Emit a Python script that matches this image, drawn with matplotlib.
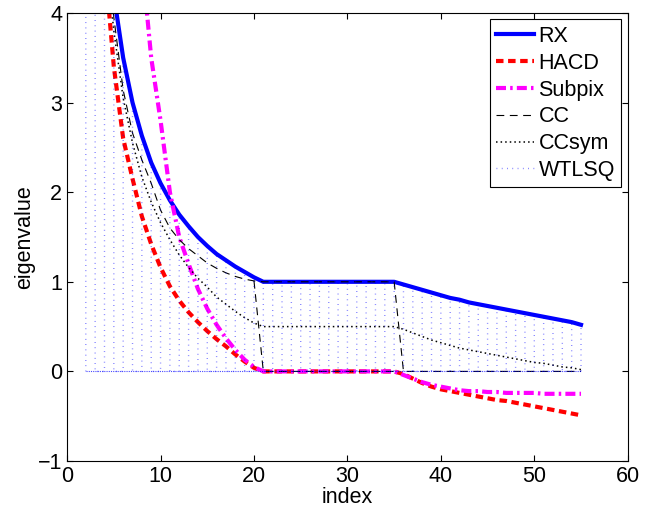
import matplotlib
matplotlib.use("Agg")
import matplotlib.pyplot as plt

plt.rcParams['font.family'] = ['Liberation Sans', 'DejaVu Sans']
plt.rcParams['font.size'] = 15.5
plt.rcParams['axes.unicode_minus'] = True

# eigenvalue index 2..55
index = list(range(2, 56))

rx = [10.5, 7.0, 5.25, 4.2, 3.5, 3.0, 2.63, 2.33, 2.1, 1.91,
      1.75, 1.62, 1.5, 1.4, 1.31, 1.24, 1.17, 1.11, 1.05, 1.0,
      1.0, 1.0, 1.0, 1.0, 1.0, 1.0, 1.0, 1.0, 1.0, 1.0, 1.0, 1.0, 1.0, 1.0,
      0.97, 0.94, 0.91, 0.88, 0.85, 0.82, 0.80, 0.77, 0.75, 0.73,
      0.71, 0.69, 0.67, 0.65, 0.63, 0.61, 0.59, 0.57, 0.55, 0.52]

hacd = [8.0, 6.0, 4.6, 3.4, 2.6, 2.15, 1.73, 1.42, 1.16, 0.95,
        0.79, 0.66, 0.55, 0.45, 0.36, 0.28, 0.19, 0.11, 0.04, 0.0,
        0, 0, 0, 0, 0, 0, 0, 0, 0, 0, 0, 0, 0, 0,
        -0.03, -0.08, -0.13, -0.17, -0.2, -0.22, -0.24, -0.26, -0.28, -0.3,
        -0.32, -0.33, -0.35, -0.37, -0.39, -0.41, -0.43, -0.45, -0.47, -0.49]

subpix = [20.0, 14.0, 11.0, 9.0, 7.0, 5.5, 4.6, 3.5, 2.8, 2.0,
          1.5, 1.2, 0.92, 0.7, 0.52, 0.37, 0.24, 0.13, 0.05, 0.0,
          0, 0, 0, 0, 0, 0, 0, 0, 0, 0, 0, 0, 0, 0,
          -0.04, -0.08, -0.12, -0.15, -0.17, -0.19, -0.21, -0.22, -0.22, -0.23,
          -0.23, -0.24, -0.24, -0.24, -0.24, -0.25, -0.25, -0.25, -0.25, -0.25]

cc = [9.0, 6.5, 5.0, 3.95, 3.14, 2.66, 2.36, 2.1, 1.8, 1.6,
      1.47, 1.37, 1.29, 1.21, 1.15, 1.1, 1.06, 1.03, 1.01,
      1.0, 1.0, 1.0, 1.0, 1.0, 1.0, 1.0, 1.0, 1.0, 1.0, 1.0, 1.0, 1.0, 1.0, 1.0,
      0, 0, 0, 0, 0, 0, 0, 0, 0, 0, 0, 0, 0, 0, 0, 0, 0, 0, 0, 0]
# CC also falls to zero right after index 20
cc_drop_x = [20, 21, 35]
cc_drop_y = [1.01, 0.0, 0.0]

ccsym = [9.0, 6.3, 4.8, 3.8, 3.05, 2.55, 2.17, 1.89, 1.66, 1.47,
         1.3, 1.16, 1.04, 0.94, 0.83, 0.75, 0.67, 0.6, 0.54, 0.5,
         0.5, 0.5, 0.5, 0.5, 0.5, 0.5, 0.5, 0.5, 0.5, 0.5, 0.5, 0.5, 0.5, 0.5,
         0.47, 0.43, 0.39, 0.35, 0.32, 0.29, 0.26, 0.24, 0.22, 0.2,
         0.18, 0.16, 0.14, 0.12, 0.1, 0.09, 0.07, 0.05, 0.04, 0.02]

# WTLSQ jumps between zero and the RX values at every index
wtlsq = rx[:]

wx, wy = [], []
for k, (i, v) in enumerate(zip(index, wtlsq)):
    wx += [i, i]
    wy += [0, v] if k % 2 == 0 else [v, 0]

fig = plt.figure(figsize=(6.58, 5.12), dpi=100)
ax = fig.add_axes([0.102, 0.0996, 0.852, 0.875])

ax.plot(index, rx, color="blue", lw=3, label="RX")
ax.plot(index, hacd, color="red", lw=3, linestyle=(0, (1.8, 1.1)), label="HACD")
ax.plot(index, subpix, color="magenta", lw=3, linestyle=(0, (2.4, 1.0, 0.6, 1.0)), label="Subpix")
ax.plot(index, cc, color="black", lw=0.8, linestyle=(0, (7, 5)), label="CC")
ax.plot(cc_drop_x, cc_drop_y, color="black", lw=0.8, linestyle=(0, (7, 5)))
ax.plot(index, ccsym, color="black", lw=1.1, linestyle=(0, (1, 2)), label="CCsym")
ax.plot(wx, wy, color="blue", alpha=0.55, lw=1.0, linestyle=(0, (0.6, 3.2)), label="WTLSQ")
# dense blue baseline at zero under the WTLSQ stems
ax.plot([index[0], index[-1]], [0, 0], color="blue", alpha=0.7, lw=0.8,
        linestyle=(0, (1, 1)))

ax.set_xlim(0, 60)
ax.set_ylim(-1, 4)
ax.set_xticks(range(0, 61, 10))
ax.set_yticks(range(-1, 5))
ax.tick_params(direction="in", top=True, right=True, length=4, width=0.8)
for s in ax.spines.values():
    s.set_linewidth(0.8)
ax.set_xlabel("index", labelpad=0)
ax.set_ylabel("eigenvalue", labelpad=2)

leg = ax.legend(loc="upper right", fancybox=False, framealpha=1, edgecolor="black",
                handlelength=1.75, handletextpad=0.2, labelspacing=0.27,
                borderpad=0.3, borderaxespad=0.3)
leg.get_frame().set_linewidth(0.8)

fig.savefig("out.png", dpi=100)
